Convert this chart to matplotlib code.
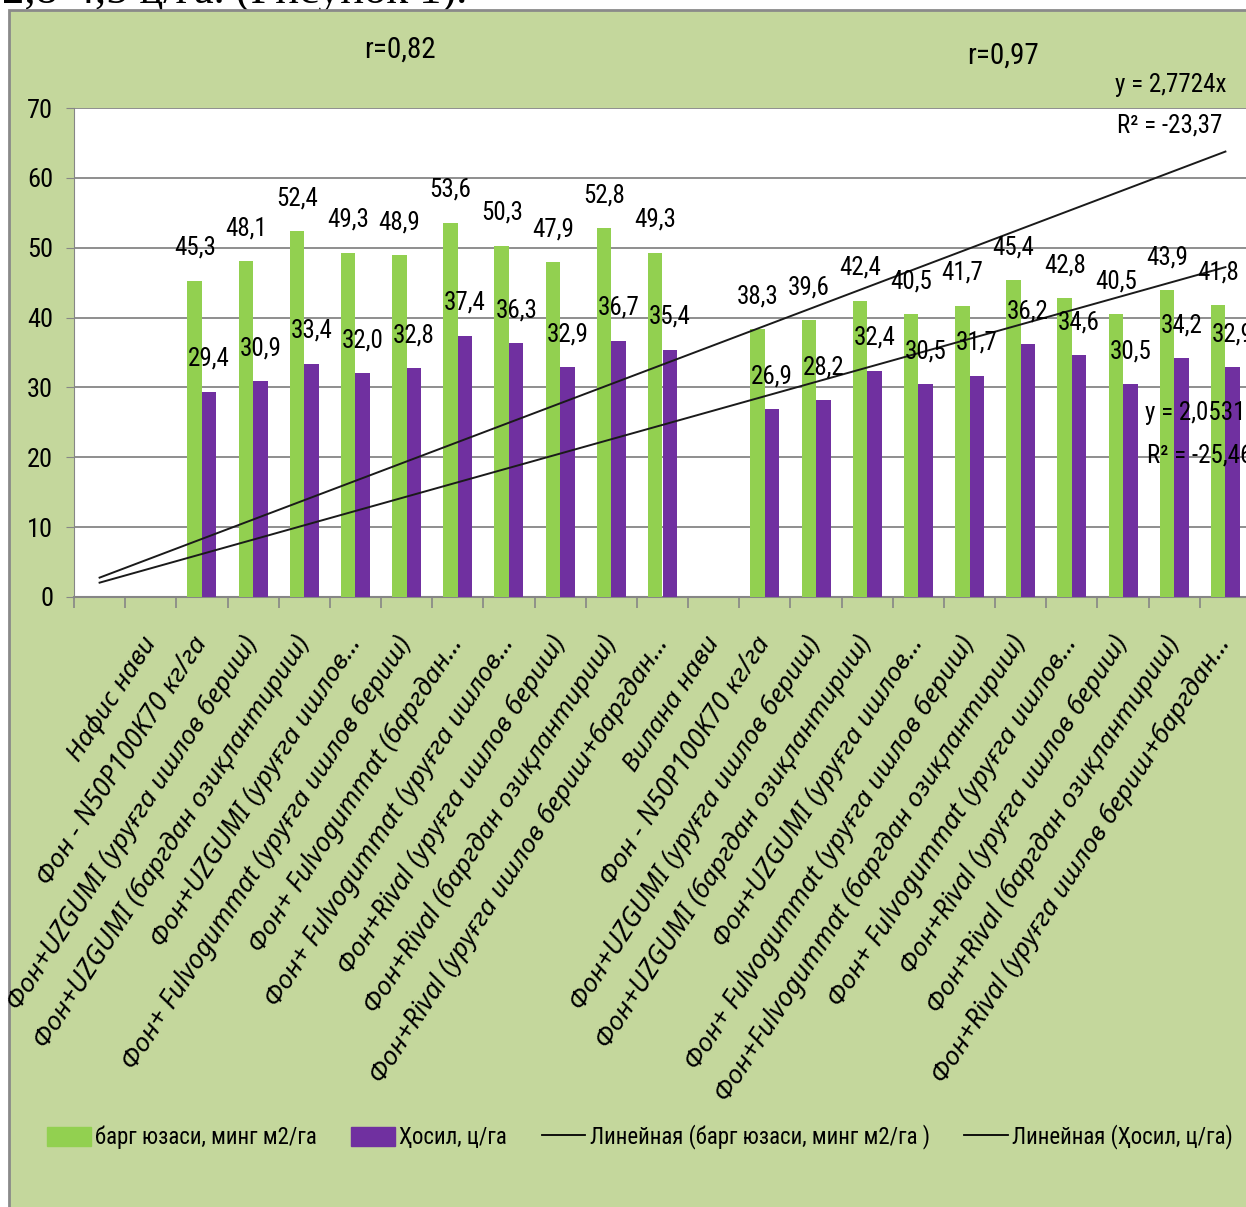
"""
Барг юзаси ва ҳосил — устунли диаграмма + чизиқли тренд
"""
import numpy as np
import matplotlib
matplotlib.use("Agg")
import matplotlib.pyplot as plt
from matplotlib.patches import Patch, Rectangle
from matplotlib.lines import Line2D

# ---- data ----
categories = [
    "",
    "Нафис нави",
    "Фон - N50P100K70 кг/га",
    "Фон+UZGUMI (уруғга ишлов бериш)",
    "Фон+UZGUMI (баргдан озиқлантириш)",
    "Фон+UZGUMI (уруғга ишлов…",
    "Фон+ Fulvogummat (уруғга ишлов бериш)",
    "Фон+ Fulvogummat (баргдан…",
    "Фон+ Fulvogummat (уруғга ишлов…",
    "Фон+Rival (уруғга ишлов бериш)",
    "Фон+Rival (баргдан озиқлантириш)",
    "Фон+Rival (уруғга ишлов бериш+баргдан…",
    "Вилана нави",
    "Фон - N50P100K70 кг/га",
    "Фон+UZGUMI (уруғга ишлов бериш)",
    "Фон+UZGUMI (баргдан озиқлантириш)",
    "Фон+UZGUMI (уруғга ишлов…",
    "Фон+ Fulvogummat (уруғга ишлов бериш)",
    "Фон+Fulvogummat (баргдан озиқлантириш)",
    "Фон+ Fulvogummat (уруғга ишлов…",
    "Фон+Rival (уруғга ишлов бериш)",
    "Фон+Rival (баргдан озиқлантириш)",
    "Фон+Rival (уруғга ишлов бериш+баргдан…",
]
leaf_area = [np.nan, np.nan,
             45.3, 48.1, 52.4, 49.3, 48.9, 53.6, 50.3, 47.9, 52.8, 49.3,
             np.nan,
             38.3, 39.6, 42.4, 40.5, 41.7, 45.4, 42.8, 40.5, 43.9, 41.8]
yield_cha = [np.nan, np.nan,
             29.4, 30.9, 33.4, 32.0, 32.8, 37.4, 36.3, 32.9, 36.7, 35.4,
             np.nan,
             26.9, 28.2, 32.4, 30.5, 31.7, 36.2, 34.6, 30.5, 34.2, 32.9]
trend_slope_leaf = 2.7724
trend_slope_yield = 2.0531
r_values = ["r=0,82", "r=0,97"]
legend_labels = ["барг юзаси, минг м2/га", "Ҳосил, ц/га",
                 "Линейная (барг юзаси, минг м2/га )", "Линейная (Ҳосил, ц/га)"]

GREEN = "#92d050"
PURPLE = "#7030a0"
BG = "#c4d79c"
GRID = "#868686"
NARROW = ["Roboto Condensed", "Liberation Sans Narrow", "Roboto", "DejaVu Sans"]
LABEL_FONT = ["Noto Sans", "DejaVu Sans"]

W, H = 1246, 1207
fig = plt.figure(figsize=(W / 100, H / 100), dpi=100, facecolor="white")

# green chart area with grey frame
fig.patches.append(Rectangle((9 / W, -0.02), 1.2, 1 - 10 / H + 0.02,
                             transform=fig.transFigure, facecolor=BG,
                             edgecolor="#8a8a8a", lw=2, zorder=-5))
# cut-off line of document text above the chart
fig.text(2 / W, 1 - 4 / H, "2,8-4,5 ц/га. (Рисунок 1).",
         family=["Liberation Serif", "DejaVu Serif"], fontsize=32,
         va="baseline", ha="left", zorder=-6)

ax = fig.add_axes([74 / W, 1 - 597 / H, (1251 - 74) / W, (597 - 108) / H])
ax.set_facecolor("white")

x = np.arange(1, len(categories) + 1)
bw = 0.283
ax.bar(x - bw / 2, leaf_area, bw, color=GREEN, zorder=3)
ax.bar(x + bw / 2, yield_cha, bw, color=PURPLE, zorder=3)

for xi, v in zip(x, leaf_area):
    if not np.isnan(v):
        ax.annotate(f"{v:.1f}".replace(".", ","), (xi - bw / 2, v),
                    xytext=(0, 15), textcoords="offset points",
                    ha="center", va="bottom", fontsize=18, family=NARROW,
                    zorder=5, annotation_clip=False)
for xi, v in zip(x, yield_cha):
    if not np.isnan(v):
        ax.annotate(f"{v:.1f}".replace(".", ","), (xi + bw / 2, v),
                    xytext=(0, 15), textcoords="offset points",
                    ha="center", va="bottom", fontsize=18, family=NARROW,
                    zorder=5, annotation_clip=False)

# linear trends through origin
ax.plot(x, trend_slope_leaf * x, color="#1a1a1a", lw=1.4, zorder=4)
ax.plot(x, trend_slope_yield * x, color="#1a1a1a", lw=1.4, zorder=4)

ax.set_xlim(0.5, len(categories) + 0.5)
ax.set_ylim(0, 70)
ax.set_yticks(range(0, 71, 10))
ax.yaxis.grid(True, color=GRID, lw=1.3, zorder=1)
ax.set_axisbelow(True)
for s in ["top", "right"]:
    ax.spines[s].set_visible(False)
ax.spines["left"].set_color(GRID)
ax.spines["bottom"].set_color(GRID)
ax.spines["bottom"].set_linewidth(1.5)

ax.tick_params(axis="y", colors=GRID, length=6, pad=9, labelsize=19,
               labelcolor="black")
for t in ax.get_yticklabels():
    t.set_family(NARROW)

ax.set_xticks(x)
ax.set_xticklabels(categories, rotation=57, rotation_mode="anchor",
                   ha="right", va="center", fontsize=19, style="italic",
                   family=LABEL_FONT)
ax.tick_params(axis="x", which="major", length=0, pad=30)
ax.set_xticks(np.arange(0.5, len(categories) + 1, 1), minor=True)
ax.tick_params(axis="x", which="minor", length=8, color=GRID, width=1.2)

# r values and equations
fig.text(400 / W, 1 - 50 / H, r_values[0], ha="center", va="center",
         fontsize=21, family=NARROW)
fig.text(1003 / W, 1 - 56 / H, r_values[1], ha="center", va="center",
         fontsize=21, family=NARROW)
fig.text(1115 / W, 1 - 85 / H, "y = 2,7724x", ha="left", va="center",
         fontsize=18, family=NARROW)
fig.text(1117 / W, 1 - 125 / H, "R² = -23,37", ha="left", va="center",
         fontsize=18, family=NARROW)
fig.text(1145 / W, 1 - 413 / H, "y = 2,0531x", ha="left", va="center",
         fontsize=18, family=NARROW, zorder=10)
fig.text(1147 / W, 1 - 455 / H, "R² = -25,46", ha="left", va="center",
         fontsize=18, family=NARROW, zorder=10)

handles = [Patch(color=GREEN), Patch(color=PURPLE),
           Line2D([], [], color="black", lw=1.3),
           Line2D([], [], color="black", lw=1.3)]
fig.legend(handles, legend_labels, loc="center left",
           bbox_to_anchor=(47 / W, 1 - 1137 / H), ncol=4, frameon=False,
           prop={"family": NARROW, "size": 16.5}, handlelength=1.9,
           handleheight=0.9, handletextpad=0.2, columnspacing=1.5,
           borderpad=0, borderaxespad=0)

fig.savefig("out.png", dpi=100, facecolor=fig.get_facecolor())
